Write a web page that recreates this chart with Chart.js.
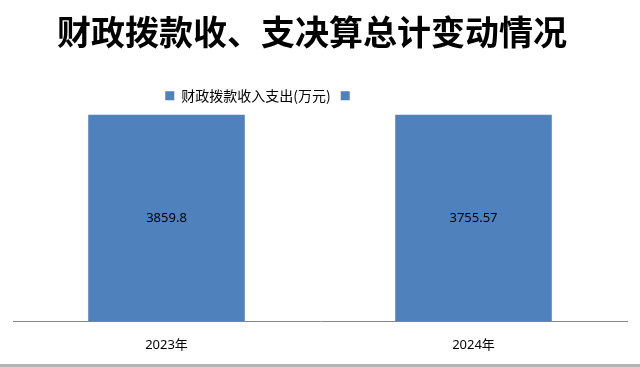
<!DOCTYPE html>
<html>
<head>
<meta charset="utf-8">
<script src="https://cdn.jsdelivr.net/npm/chart.js@4/dist/chart.umd.min.js"></script>
<style>
html,body{margin:0;padding:0;background:#fff;}
#wrap{position:relative;width:640px;height:367px;overflow:hidden;}
#strip{position:absolute;left:0;top:364px;width:640px;height:3px;background:#b4b4b4;}
</style>
</head>
<body>
<div id="wrap">
<canvas id="c" width="640" height="367"></canvas>
<div id="strip"></div>
</div>
<script>
const titleText = '财政拨款收、支决算总计变动情况';
const categories = ['2023年', '2024年'];
const seriesLabel = '财政拨款收入支出(万元)';
const seriesValues = [3859.8, 3755.57];
const secondLabel = '';
const secondValues = [];
const axisMax = 3600;

const barColor = '#4F81BD';

const labelPlugin = {
  id: 'barLabels',
  afterDatasetsDraw(chart) {
    const ctx = chart.ctx;
    const area = chart.chartArea;
    const meta = chart.getDatasetMeta(0);
    ctx.save();
    ctx.fillStyle = '#000';
    ctx.font = '13px "Noto Sans", "Noto Sans CJK SC", sans-serif';
    ctx.textAlign = 'center';
    ctx.textBaseline = 'middle';
    meta.data.forEach((el, i) => {
      const top = Math.max(el.y, area.top);
      const bottom = Math.min(el.base, area.bottom);
      ctx.fillText(String(seriesValues[i]), el.x, (top + bottom) / 2);
    });
    ctx.restore();
  }
};

const legendShift = {
  id: 'legendShift',
  beforeInit(chart) {
    const fit = chart.legend.fit;
    chart.legend.fit = function () {
      fit.bind(chart.legend)();
      this.height += 2;
    };
  },
  afterLayout(chart) {
    chart.legend.left -= 59;
    chart.legend.right -= 59;
    chart.titleBlock.left -= 8;
    chart.titleBlock.right -= 8;
  }
};

new Chart(document.getElementById('c'), {
  type: 'bar',
  data: {
    labels: categories,
    datasets: [
      { label: seriesLabel, data: seriesValues, backgroundColor: barColor, borderWidth: 0, barPercentage: 0.51, categoryPercentage: 1.0, grouped: false },
      { label: secondLabel, data: secondValues, backgroundColor: barColor, borderWidth: 0, barPercentage: 0.51, categoryPercentage: 1.0, grouped: false }
    ]
  },
  options: {
    responsive: false,
    animation: false,
    layout: { padding: { left: 13, right: 13, top: 12, bottom: 6 } },
    plugins: {
      title: {
        display: true,
        text: titleText,
        color: '#000',
        font: { family: '"Noto Sans CJK SC", sans-serif', size: 34, weight: 'bold' },
        padding: { top: 0, bottom: 26 }
      },
      legend: {
        display: true,
        onClick: null,
        labels: {
          color: '#000',
          boxWidth: 9,
          boxHeight: 9,
          padding: 10,
          font: { family: '"Noto Sans CJK SC", sans-serif', size: 14 }
        }
      },
      tooltip: { enabled: false }
    },
    scales: {
      x: {
        grid: { display: false },
        border: { display: true, color: '#868686', width: 1 },
        ticks: { color: '#000', padding: 8, font: { family: '"Noto Sans", "Noto Sans CJK SC", sans-serif', size: 13 } }
      },
      y: {
        display: false,
        min: 0,
        max: axisMax
      }
    }
  },
  plugins: [labelPlugin, legendShift]
});
</script>
</body>
</html>
